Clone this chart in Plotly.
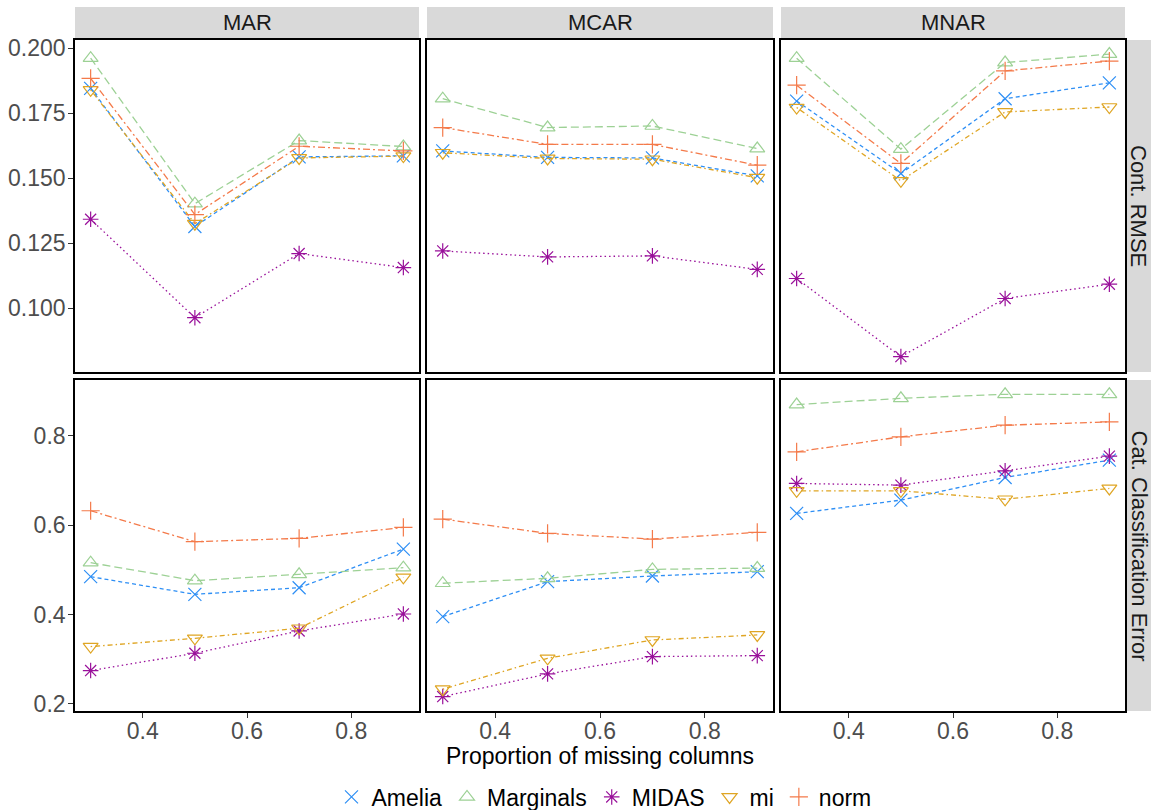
import plotly.graph_objects as go

W, H = 1151, 810

x_vals = [0.3, 0.5, 0.7, 0.9]
mechanisms = ["MAR", "MCAR", "MNAR"]
metrics = ["Cont. RMSE", "Cat. Classification Error"]
methods = ["Amelia", "Marginals", "MIDAS", "mi", "norm"]

# Cont. RMSE
rmse_MAR = {
    "Amelia":    [0.1846, 0.1314, 0.1582, 0.1586],
    "Marginals": [0.1962, 0.1402, 0.1645, 0.1622],
    "MIDAS":     [0.1342, 0.0963, 0.1210, 0.1156],
    "mi":        [0.1840, 0.1325, 0.1578, 0.1585],
    "norm":      [0.1884, 0.1360, 0.1623, 0.1605],
}
rmse_MCAR = {
    "Amelia":    [0.1605, 0.1580, 0.1578, 0.1509],
    "Marginals": [0.1806, 0.1695, 0.1701, 0.1614],
    "MIDAS":     [0.1220, 0.1197, 0.1201, 0.1149],
    "mi":        [0.1598, 0.1576, 0.1573, 0.1502],
    "norm":      [0.1695, 0.1630, 0.1630, 0.1550],
}
rmse_MNAR = {
    "Amelia":    [0.1797, 0.1518, 0.1806, 0.1867],
    "Marginals": [0.1962, 0.1612, 0.1945, 0.1978],
    "MIDAS":     [0.1114, 0.0813, 0.1037, 0.1092],
    "mi":        [0.1772, 0.1490, 0.1755, 0.1774],
    "norm":      [0.1858, 0.1557, 0.1913, 0.1951],
}
# Cat. Classification Error
cat_MAR = {
    "Amelia":    [0.4847, 0.4452, 0.4600, 0.5465],
    "Marginals": [0.5160, 0.4758, 0.4900, 0.5050],
    "MIDAS":     [0.2745, 0.3133, 0.3632, 0.4012],
    "mi":        [0.3282, 0.3468, 0.3692, 0.4832],
    "norm":      [0.6323, 0.5630, 0.5704, 0.5950],
}
cat_MCAR = {
    "Amelia":    [0.3952, 0.4735, 0.4862, 0.4959],
    "Marginals": [0.4700, 0.4810, 0.5010, 0.5040],
    "MIDAS":     [0.2163, 0.2670, 0.3058, 0.3080],
    "mi":        [0.2328, 0.3020, 0.3430, 0.3542],
    "norm":      [0.6136, 0.5816, 0.5689, 0.5838],
}
cat_MNAR = {
    "Amelia":    [0.6263, 0.6561, 0.7068, 0.7456],
    "Marginals": [0.8700, 0.8840, 0.8930, 0.8930],
    "MIDAS":     [0.6934, 0.6897, 0.7217, 0.7545],
    "mi":        [0.6770, 0.6770, 0.6580, 0.6822],
    "norm":      [0.7642, 0.7978, 0.8238, 0.8313],
}

data = [[rmse_MAR, rmse_MCAR, rmse_MNAR], [cat_MAR, cat_MCAR, cat_MNAR]]

rmse_ticks = [0.100, 0.125, 0.150, 0.175, 0.200]
cat_ticks = [0.2, 0.4, 0.6, 0.8]
x_ticks = [0.4, 0.6, 0.8]

colors = {"Amelia": "#2E8FF5", "Marginals": "#9DD195", "MIDAS": "#99109A",
          "mi": "#DFA523", "norm": "#F47A4A"}
symbols = {"Amelia": "x-thin-open", "Marginals": "triangle-up-open",
           "MIDAS": "asterisk-open", "mi": "triangle-down-open",
           "norm": "cross-thin-open"}
dashes = {"Amelia": "4px,3px", "Marginals": "8px,4px", "MIDAS": "1.5px,3px",
          "mi": "1.5px,3px,5px,3px", "norm": "7px,3px,2px,3px"}

# layout geometry (pixels)
col_px = [(75, 419), (427, 773), (781, 1125)]
row_px = [(40, 372), (380, 711)]

def px_x(p):
    return p / W

def px_y(p):
    return 1 - p / H

fig = go.Figure()
layout = {}
tick_font = dict(family="Liberation Sans, Arial", size=23, color="#4D4D4D")

for r in range(2):
    for c in range(3):
        idx = r * 3 + c + 1
        xa = "x" if idx == 1 else f"x{idx}"
        ya = "y" if idx == 1 else f"y{idx}"
        for m in methods:
            fig.add_trace(go.Scatter(
                x=x_vals, y=data[r][c][m], mode="lines+markers",
                xaxis=xa, yaxis=ya, showlegend=False, name=m,
                line=dict(color=colors[m], width=1.3, dash=dashes[m]),
                marker=dict(symbol=symbols[m], size=13, color=colors[m],
                            line=dict(width=1.2, color=colors[m])),
            ))
        xkey = "xaxis" if idx == 1 else f"xaxis{idx}"
        ykey = "yaxis" if idx == 1 else f"yaxis{idx}"
        bottom = (r == 1)
        left = (c == 0)
        layout[xkey] = dict(
            domain=[px_x(col_px[c][0]), px_x(col_px[c][1])],
            anchor=ya, range=[0.27, 0.93], tickvals=x_ticks,
            ticktext=[f"{v:.1f}" for v in x_ticks],
            showticklabels=bottom, ticks="outside" if bottom else "",
            ticklen=5, tickwidth=1, tickcolor="#333333", automargin=False,
            ticklabelstandoff=-6,
            showgrid=False, zeroline=False, showline=True, mirror=True,
            linecolor="black", linewidth=1.6, tickfont=tick_font,
        )
        if r == 0:
            yr = [0.0754, 0.2032]
            tv = rmse_ticks
            tt = [f"{v:.3f}" for v in tv]
        else:
            yr = [0.184, 0.925]
            tv = cat_ticks
            tt = [f"{v:.1f}" for v in tv]
        layout[ykey] = dict(
            domain=[px_y(row_px[r][1]), px_y(row_px[r][0])],
            anchor=xa, range=yr, tickvals=tv, ticktext=tt,
            showticklabels=left, ticks="outside" if left else "",
            ticklen=5, tickwidth=1, tickcolor="#333333", automargin=False,
            ticklabelstandoff=-2,
            showgrid=False, zeroline=False, showline=True, mirror=True,
            linecolor="black", linewidth=1.6, tickfont=tick_font,
        )

# legend entries (markers only)
for m in methods:
    fig.add_trace(go.Scatter(
        x=[None], y=[None], mode="markers", name=m, showlegend=True,
        marker=dict(symbol=symbols[m], size=13, color=colors[m],
                    line=dict(width=1.2, color=colors[m])),
    ))

shapes = []
annotations = []
strip_fill = "#D9D9D9"
strip_font = dict(family="Liberation Sans, Arial", size=22, color="#1A1A1A")
for c, mech in enumerate(mechanisms):
    shapes.append(dict(type="rect", xref="paper", yref="paper", layer="below",
                       x0=px_x(col_px[c][0]), x1=px_x(col_px[c][1]),
                       y0=px_y(39), y1=px_y(7), fillcolor=strip_fill, line=dict(width=0)))
    annotations.append(dict(text=mech, xref="paper", yref="paper",
                            x=px_x((col_px[c][0] + col_px[c][1]) / 2), y=px_y(23),
                            xanchor="center", yanchor="middle", showarrow=False,
                            font=strip_font))
for r, met in enumerate(metrics):
    shapes.append(dict(type="rect", xref="paper", yref="paper", layer="below",
                       x0=px_x(1126), x1=px_x(1151),
                       y0=px_y(row_px[r][1]), y1=px_y(row_px[r][0]),
                       fillcolor=strip_fill, line=dict(width=0)))
    annotations.append(dict(text=met, xref="paper", yref="paper",
                            x=px_x(1139), y=px_y((row_px[r][0] + row_px[r][1]) / 2),
                            xanchor="center", yanchor="middle", showarrow=False,
                            textangle=90, font=strip_font))

annotations.append(dict(text="Proportion of missing columns", xref="paper", yref="paper",
                        x=px_x((col_px[0][0] + col_px[2][1]) / 2), y=px_y(756),
                        xanchor="center", yanchor="middle", showarrow=False,
                        font=dict(family="Liberation Sans, Arial", size=23, color="black")))

fig.update_layout(
    width=W, height=H, margin=dict(l=0, r=0, t=0, b=0, autoexpand=False),
    paper_bgcolor="white", plot_bgcolor="white",
    shapes=shapes, annotations=annotations,
    legend=dict(orientation="h", x=px_x(604), xanchor="center", y=px_y(797), yanchor="middle",
                font=dict(family="Liberation Sans, Arial", size=23, color="black"),
                itemwidth=30, bgcolor="rgba(0,0,0,0)"),
    **layout,
)

fig.write_html("out.html", config={"displayModeBar": False},
               post_script="document.body.style.margin='0';document.body.style.padding='0';document.body.style.overflow='hidden';")
